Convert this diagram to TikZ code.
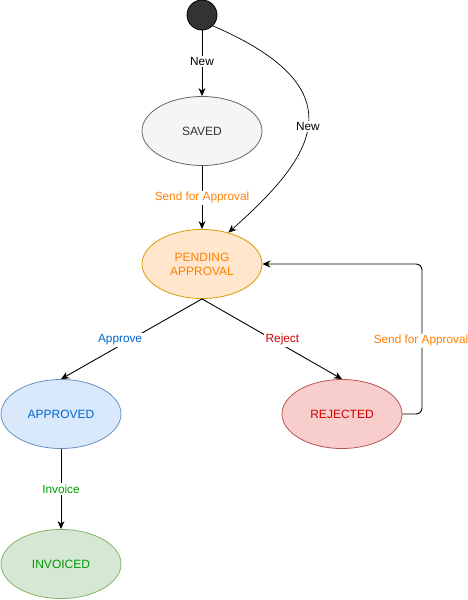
\documentclass[tikz,border=0pt]{standalone}
\usepackage{fontspec}
\setmainfont{Liberation Sans}
\usetikzlibrary{shapes.geometric,arrows.meta}
\definecolor{startfill}{HTML}{333333}
\definecolor{savedfill}{HTML}{F5F5F5}
\definecolor{saveddraw}{HTML}{666666}
\definecolor{savedtext}{HTML}{333333}
\definecolor{pendfill}{HTML}{FFE6CC}
\definecolor{penddraw}{HTML}{D79B00}
\definecolor{orangetext}{HTML}{FF8000}
\definecolor{apprfill}{HTML}{DAE8FC}
\definecolor{apprdraw}{HTML}{6C8EBF}
\definecolor{bluetext}{HTML}{0066CC}
\definecolor{rejfill}{HTML}{F8CECC}
\definecolor{rejdraw}{HTML}{B85450}
\definecolor{redtext}{HTML}{CC0000}
\definecolor{invfill}{HTML}{D5E8D4}
\definecolor{invdraw}{HTML}{82B366}
\definecolor{greentext}{HTML}{009900}
\tikzset{
  state/.style={ellipse, minimum width=120pt, minimum height=69pt, inner sep=0pt,
    line width=0.8pt, font=\fontsize{12}{14}\selectfont, align=center},
  arr/.style={line width=0.9pt, -{Stealth[length=8pt,width=7pt,inset=2.5pt]}},
  elabel/.style={fill=white, inner sep=1.5pt, font=\fontsize{11.8}{13}\selectfont}
}
\begin{document}
\begin{tikzpicture}[x=1pt,y=-1pt]
\useasboundingbox (0,0) rectangle (468,600);
\node[circle, minimum size=30pt, inner sep=0pt, fill=startfill, draw=black, line width=0.8pt] (start) at (202,15) {};
\node[state, fill=savedfill, draw=saveddraw, text=savedtext] (saved) at (202,131) {SAVED};
\node[state, fill=pendfill, draw=penddraw, text=orangetext] (pending) at (202,264) {PENDING\\APPROVAL};
\node[state, fill=apprfill, draw=apprdraw, text=bluetext] (approved) at (61,414) {APPROVED};
\node[state, fill=rejfill, draw=rejdraw, text=redtext] (rejected) at (342,414) {REJECTED};
\node[state, fill=invfill, draw=invdraw, text=greentext] (invoiced) at (61,564) {INVOICED};
\coordinate (loop) at (422,264);

\draw[arr] (start.south) -- node[elabel, pos=0.47] {New} (saved.north);
\draw[arr, line width=0.7pt] (start.-45) .. controls (364,91) and (310,160) .. node[elabel, pos=0.5] {New} (pending.50);
\draw[arr] (saved.south) -- node[elabel, text=orangetext, pos=0.5] {Send for Approval} (pending.north);
\draw[arr] (pending.south) -- node[elabel, text=bluetext, pos=0.51, xshift=-10pt] {Approve} (approved.north);
\draw[arr] (pending.south) -- node[elabel, text=redtext, pos=0.51, xshift=9pt] {Reject} (rejected.north);
\draw[arr, rounded corners=6pt] (rejected.east) -| node[elabel, text=orangetext, pos=0.745, xshift=-1pt] {Send for Approval} (loop) -- (pending.east);
\draw[arr] (approved.south) -- node[elabel, text=greentext, pos=0.5] {Invoice} (invoiced.north);
\end{tikzpicture}
\end{document}
